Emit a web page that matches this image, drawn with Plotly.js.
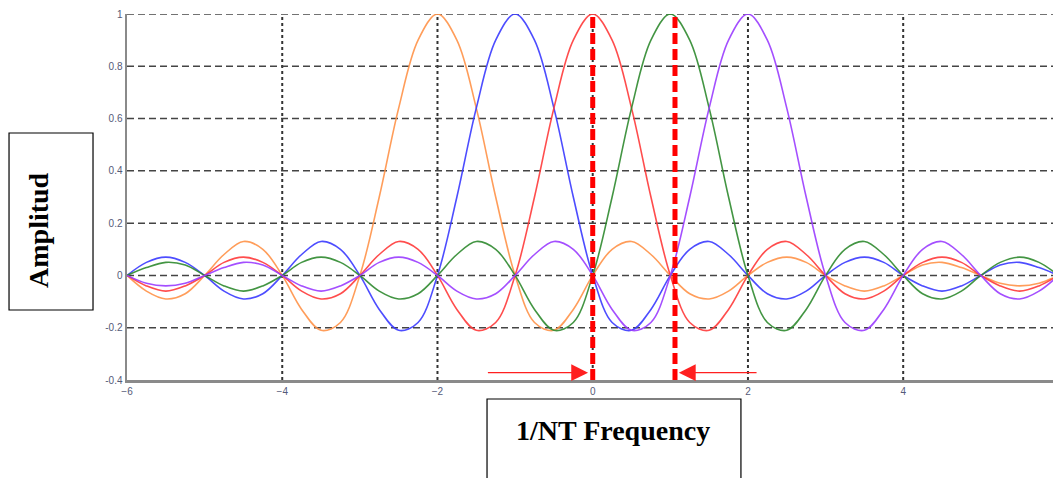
<!DOCTYPE html>
<html>
<head>
<meta charset="utf-8">
<script src="https://cdn.plot.ly/plotly-3.0.1.min.js"></script>
<style>html,body{margin:0;padding:0;background:#fff;}#chart{width:1053px;height:478px;}</style>
</head>
<body>
<div id="chart"></div>
<script>
// x positions in units of 1/NT
const freq = [-6,-5.75,-5.5,-5.25,-5,-4.75,-4.5,-4.25,-4,-3.75,-3.5,-3.25,-3,-2.75,-2.5,-2.25,-2,-1.75,-1.5,-1.25,-1,-0.75,-0.5,-0.25,0,0.25,0.5,0.75,1,1.25,1.5,1.75,2,2.25,2.5,2.75,3,3.25,3.5,3.75,4,4.25,4.5,4.75,5,5.25,5.5,5.75,6];

const orangeY = [0,-0.06,-0.09,-0.07,0,0.08,0.13,0.10,0,-0.13,-0.21,-0.18,0,0.30,0.64,0.90,1.00,0.90,0.64,0.30,0,-0.18,-0.21,-0.13,0,0.10,0.13,0.08,0,-0.07,-0.09,-0.06,0,0.05,0.07,0.05,0,-0.04,-0.06,-0.04,0,0.04,0.05,0.03,0,-0.03,-0.04,-0.03,0];
const blueY = [0,0.05,0.07,0.05,0,-0.06,-0.09,-0.07,0,0.08,0.13,0.10,0,-0.13,-0.21,-0.18,0,0.30,0.64,0.90,1.00,0.90,0.64,0.30,0,-0.18,-0.21,-0.13,0,0.10,0.13,0.08,0,-0.07,-0.09,-0.06,0,0.05,0.07,0.05,0,-0.04,-0.06,-0.04,0,0.04,0.05,0.03,0];
const redY = [0,-0.04,-0.06,-0.04,0,0.05,0.07,0.05,0,-0.06,-0.09,-0.07,0,0.08,0.13,0.10,0,-0.13,-0.21,-0.18,0,0.30,0.64,0.90,1.00,0.90,0.64,0.30,0,-0.18,-0.21,-0.13,0,0.10,0.13,0.08,0,-0.07,-0.09,-0.06,0,0.05,0.07,0.05,0,-0.04,-0.06,-0.04,0];
const greenY = [0,0.03,0.05,0.04,0,-0.04,-0.06,-0.04,0,0.05,0.07,0.05,0,-0.06,-0.09,-0.07,0,0.08,0.13,0.10,0,-0.13,-0.21,-0.18,0,0.30,0.64,0.90,1.00,0.90,0.64,0.30,0,-0.18,-0.21,-0.13,0,0.10,0.13,0.08,0,-0.07,-0.09,-0.06,0,0.05,0.07,0.05,0];
const purpleY = [0,-0.03,-0.04,-0.03,0,0.03,0.05,0.04,0,-0.04,-0.06,-0.04,0,0.05,0.07,0.05,0,-0.06,-0.09,-0.07,0,0.08,0.13,0.10,0,-0.13,-0.21,-0.18,0,0.30,0.64,0.90,1.00,0.90,0.64,0.30,0,-0.18,-0.21,-0.13,0,0.10,0.13,0.08,0,-0.07,-0.09,-0.06,0];

const seriesColors = ['#ff9248', '#3a3aff', '#ff3a3a', '#2f8a2f', '#9a3cff'];
const seriesData = [orangeY, blueY, redY, greenY, purpleY];

// marker lines and arrows
const markerX = [0, 1.06];
const arrowTails = [-1.37, 2.13];
const arrowHeads = [-0.06, 1.11];
const arrowLevel = -0.372;

const xTicks = [-6,-4,-2,0,2,4,6];
const yTicks = [-0.4,-0.2,0,0.2,0.4,0.6,0.8,1];
const yTickText = ['-0.4','-0.2','0','0.2','0.4','0.6','0.8','1'];

const traces = seriesData.map((ys, i) => ({
  x: freq, y: ys, type: 'scatter', mode: 'lines',
  line: {color: seriesColors[i], width: 1.6, shape: 'spline', smoothing: 1},
  opacity: 0.9, hoverinfo: 'skip'
}));

const shapes = [];
// vertical dotted grid
[-4,-2,0,2,4].forEach(v => shapes.push({type:'line', xref:'x', yref:'y', x0:v, x1:v, y0:-0.4, y1:1,
  line:{color:'#333', width:2, dash:'3px,3px'}, layer:'below'}));
// horizontal dashed grid
[-0.2,0,0.2,0.4,0.6,0.8,1].forEach(v => shapes.push({type:'line', xref:'x', yref:'y', x0:-6, x1:5.93, y0:v, y1:v,
  line:{color:'#444', width:1.5, dash:'7px,4px'}, layer:'below'}));
// red thick dashed lines
markerX.forEach(v => shapes.push({type:'line', xref:'x', yref:'y', x0:v, x1:v, y0:-0.4, y1:1,
  line:{color:'#ff0000', width:5, dash:'11px,5px'}, layer:'above'}));
// title boxes
shapes.push({type:'rect', xref:'paper', yref:'paper', x0:0.3888, x1:0.663, y0:-0.0519, y1:-0.30,
  line:{color:'#000', width:1.2}, fillcolor:'rgba(0,0,0,0)'});
shapes.push({type:'rect', xref:'paper', yref:'paper', x0:-0.1274, x1:-0.0367, y0:0.1913, y1:0.6749,
  line:{color:'#000', width:1.2}, fillcolor:'rgba(0,0,0,0)'});

const annotations = [];
for (let i = 0; i < 2; i++) {
  annotations.push({x: arrowHeads[i], y: arrowLevel, ax: arrowTails[i], ay: arrowLevel,
    xref:'x', yref:'y', axref:'x', ayref:'y', text:'', showarrow:true,
    arrowhead:2, arrowsize:2.8, arrowwidth:1.2, arrowcolor:'#ff2020'});
}
annotations.push({xref:'paper', yref:'paper', x:0.5248, y:-0.137, xanchor:'center', yanchor:'middle',
  text:'<b>1/NT Frequency</b>', showarrow:false,
  font:{family:'Liberation Serif, Times New Roman, serif', size:28, color:'#000'}});
annotations.push({xref:'paper', yref:'paper', x:-0.095, y:0.41, xanchor:'center', yanchor:'middle',
  text:'<b>Amplitud</b>', textangle:-90, showarrow:false,
  font:{family:'Liberation Serif, Times New Roman, serif', size:28, color:'#000'}});

const layout = {
  width:1053, height:478,
  margin:{l:127, r:0, t:14, b:98},
  paper_bgcolor:'#fff', plot_bgcolor:'#fff',
  showlegend:false,
  xaxis:{range:[-6,5.93], tickvals:xTicks, showgrid:false, zeroline:false,
    showline:true, linecolor:'#8a8a8a', linewidth:2.5, ticks:'', ticklen:0,
    tickfont:{family:'Arial, sans-serif', size:10, color:'#555a78'}},
  yaxis:{range:[-0.4,1], tickvals:yTicks, ticktext:yTickText, showgrid:false, zeroline:false,
    showline:true, linecolor:'#8a8a8a', linewidth:2.5, ticks:'', ticklen:0,
    tickfont:{family:'Arial, sans-serif', size:10, color:'#555a78'}},
  shapes: shapes,
  annotations: annotations
};

Plotly.newPlot('chart', traces, layout, {displayModeBar:false, staticPlot:true});
</script>
</body>
</html>
